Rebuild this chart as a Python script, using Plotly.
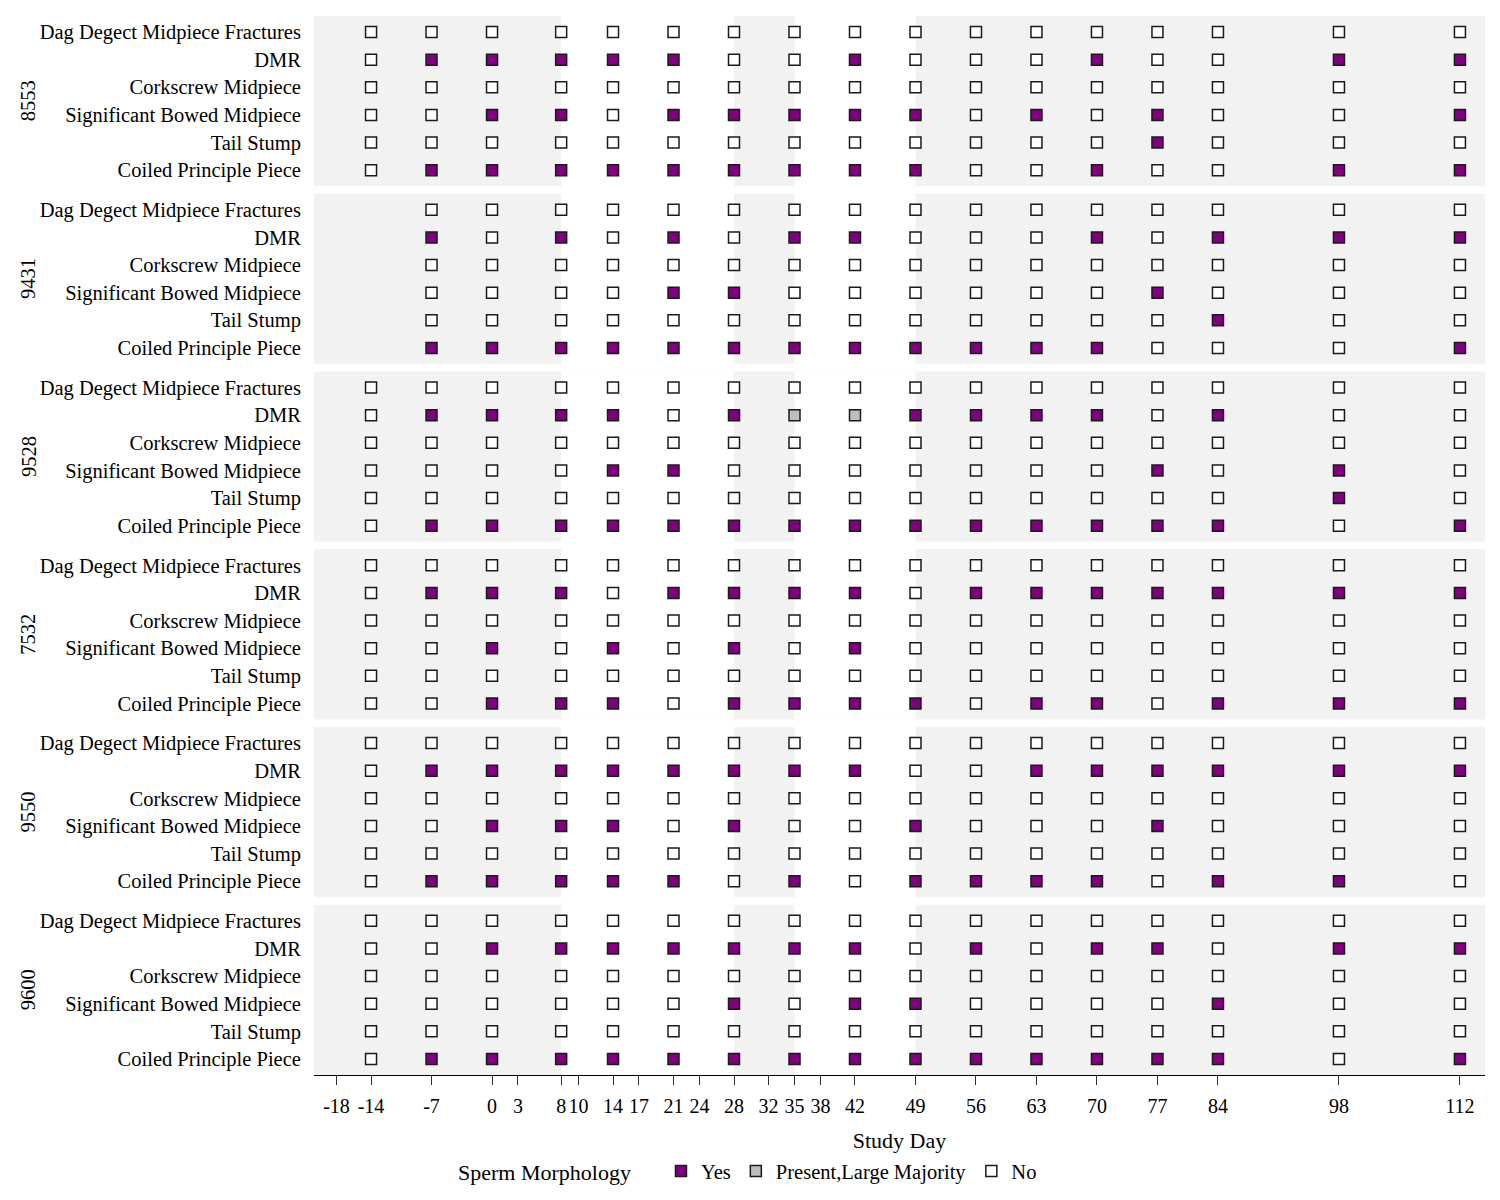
import plotly.graph_objects as go
from plotly.subplots import make_subplots

# study days sampled and the axis ticks shown on the bottom
days = [-14, -7, 0, 8, 14, 21, 28, 35, 42, 49, 56, 63, 70, 77, 84, 98, 112]
day_ticks = [-18, -14, -7, 0, 3, 8, 10, 14, 17, 21, 24, 28, 32, 35, 38, 42, 49, 56, 63, 70, 77, 84, 98, 112]

morphologies = ["Dag Degect Midpiece Fractures", "DMR", "Corkscrew Midpiece",
                "Significant Bowed Midpiece", "Tail Stump", "Coiled Principle Piece"]

animals = ["8553", "9431", "9528", "7532", "9550", "9600"]

# 1 = Yes, 2 = Present,Large Majority, 0 = No, None = not sampled
N = None
status_8553 = [
    [0, 0, 0, 0, 0, 0, 0, 0, 0, 0, 0, 0, 0, 0, 0, 0, 0],
    [0, 1, 1, 1, 1, 1, 0, 0, 1, 0, 0, 0, 1, 0, 0, 1, 1],
    [0, 0, 0, 0, 0, 0, 0, 0, 0, 0, 0, 0, 0, 0, 0, 0, 0],
    [0, 0, 1, 1, 0, 1, 1, 1, 1, 1, 0, 1, 0, 1, 0, 0, 1],
    [0, 0, 0, 0, 0, 0, 0, 0, 0, 0, 0, 0, 0, 1, 0, 0, 0],
    [0, 1, 1, 1, 1, 1, 1, 1, 1, 1, 0, 0, 1, 0, 0, 1, 1],
]
status_9431 = [
    [N, 0, 0, 0, 0, 0, 0, 0, 0, 0, 0, 0, 0, 0, 0, 0, 0],
    [N, 1, 0, 1, 0, 1, 0, 1, 1, 0, 0, 0, 1, 0, 1, 1, 1],
    [N, 0, 0, 0, 0, 0, 0, 0, 0, 0, 0, 0, 0, 0, 0, 0, 0],
    [N, 0, 0, 0, 0, 1, 1, 0, 0, 0, 0, 0, 0, 1, 0, 0, 0],
    [N, 0, 0, 0, 0, 0, 0, 0, 0, 0, 0, 0, 0, 0, 1, 0, 0],
    [N, 1, 1, 1, 1, 1, 1, 1, 1, 1, 1, 1, 1, 0, 0, 0, 1],
]
status_9528 = [
    [0, 0, 0, 0, 0, 0, 0, 0, 0, 0, 0, 0, 0, 0, 0, 0, 0],
    [0, 1, 1, 1, 1, 0, 1, 2, 2, 1, 1, 1, 1, 0, 1, 0, 0],
    [0, 0, 0, 0, 0, 0, 0, 0, 0, 0, 0, 0, 0, 0, 0, 0, 0],
    [0, 0, 0, 0, 1, 1, 0, 0, 0, 0, 0, 0, 0, 1, 0, 1, 0],
    [0, 0, 0, 0, 0, 0, 0, 0, 0, 0, 0, 0, 0, 0, 0, 1, 0],
    [0, 1, 1, 1, 1, 1, 1, 1, 1, 1, 1, 1, 1, 1, 1, 0, 1],
]
status_7532 = [
    [0, 0, 0, 0, 0, 0, 0, 0, 0, 0, 0, 0, 0, 0, 0, 0, 0],
    [0, 1, 1, 1, 0, 1, 1, 1, 1, 0, 1, 1, 1, 1, 1, 1, 1],
    [0, 0, 0, 0, 0, 0, 0, 0, 0, 0, 0, 0, 0, 0, 0, 0, 0],
    [0, 0, 1, 0, 1, 0, 1, 0, 1, 0, 0, 0, 0, 0, 0, 0, 0],
    [0, 0, 0, 0, 0, 0, 0, 0, 0, 0, 0, 0, 0, 0, 0, 0, 0],
    [0, 0, 1, 1, 1, 0, 1, 1, 1, 1, 0, 1, 1, 0, 1, 1, 1],
]
status_9550 = [
    [0, 0, 0, 0, 0, 0, 0, 0, 0, 0, 0, 0, 0, 0, 0, 0, 0],
    [0, 1, 1, 1, 1, 1, 1, 1, 1, 0, 0, 1, 1, 1, 1, 1, 1],
    [0, 0, 0, 0, 0, 0, 0, 0, 0, 0, 0, 0, 0, 0, 0, 0, 0],
    [0, 0, 1, 1, 1, 0, 1, 0, 0, 1, 0, 0, 0, 1, 0, 0, 0],
    [0, 0, 0, 0, 0, 0, 0, 0, 0, 0, 0, 0, 0, 0, 0, 0, 0],
    [0, 1, 1, 1, 1, 1, 0, 1, 0, 1, 1, 1, 1, 0, 1, 1, 0],
]
status_9600 = [
    [0, 0, 0, 0, 0, 0, 0, 0, 0, 0, 0, 0, 0, 0, 0, 0, 0],
    [0, 0, 1, 1, 1, 1, 1, 1, 1, 0, 1, 0, 1, 1, 0, 1, 1],
    [0, 0, 0, 0, 0, 0, 0, 0, 0, 0, 0, 0, 0, 0, 0, 0, 0],
    [0, 0, 0, 0, 0, 0, 1, 0, 1, 1, 0, 0, 0, 0, 1, 0, 0],
    [0, 0, 0, 0, 0, 0, 0, 0, 0, 0, 0, 0, 0, 0, 0, 0, 0],
    [0, 1, 1, 1, 1, 1, 1, 1, 1, 1, 1, 1, 1, 1, 1, 0, 1],
]

# unshaded (white) study periods
white_bands = [(8, 28), (35, 49)]

panels = [status_8553, status_9431, status_9528, status_7532, status_9550, status_9600]

levels = [(1, "Yes", "#800080"), (2, "Present,Large Majority", "#bebebe"), (0, "No", "white")]

FONT = "Liberation Serif"

fig = make_subplots(rows=len(animals), cols=1, shared_xaxes=True, vertical_spacing=0.0072)

shown = set()
for r, (animal, grid) in enumerate(zip(animals, panels), start=1):
    for code, name, color in levels:
        xs, ys = [], []
        for i, row in enumerate(grid):
            for d, v in zip(days, row):
                if v == code:
                    xs.append(d)
                    ys.append(i)
        if not xs:
            continue
        fig.add_trace(go.Scatter(
            x=xs, y=ys, mode="markers", name=name, legendgroup=name,
            legendrank={1: 1, 2: 2, 0: 3}[code],
            showlegend=name not in shown,
            marker=dict(symbol="square", size=11, color=color,
                        line=dict(color="#1a1a1a", width=1.5)),
        ), row=r, col=1)
        shown.add(name)

    yref = "y domain" if r == 1 else "y%d domain" % r
    for x0, x1 in white_bands:
        fig.add_shape(type="rect", xref="x", yref=yref, x0=x0, x1=x1, y0=0, y1=1,
                      fillcolor="white", line_width=0, layer="below")
    fig.add_annotation(text=animal, xref="paper", yref=yref, x=-0.244, y=0.5,
                       textangle=-90, showarrow=False, xanchor="center", yanchor="middle",
                       font=dict(family=FONT, size=20.5, color="black"))

fig.update_yaxes(range=[5.58, -0.58], tickvals=list(range(len(morphologies))),
                 ticktext=morphologies, showgrid=False, zeroline=False, showline=False,
                 ticks="outside", ticklen=8, tickcolor="rgba(0,0,0,0)",
                 tickfont=dict(family=FONT, size=20.5, color="black"))
fig.update_xaxes(range=[-20.6, 114.9], showgrid=False, zeroline=False, showline=False, ticks="")
fig.update_xaxes(row=len(animals), col=1, showline=True, linecolor="black", linewidth=1,
                 ticks="outside", ticklen=9, tickcolor="#333333", tickvals=day_ticks,
                 ticktext=[str(d) for d in day_ticks], ticklabelstandoff=4, tickangle=0,
                 showticklabels=True, tickfont=dict(family=FONT, size=20, color="black"),
                 title=dict(text="Study Day", standoff=16, font=dict(family=FONT, size=22, color="black")))

fig.update_layout(
    width=1500, height=1200,
    margin=dict(l=306, r=23, t=8, b=133),
    plot_bgcolor="#f2f2f2", paper_bgcolor="white",
    font=dict(family=FONT, color="black"),
    legend=dict(orientation="h", x=0.3715, xanchor="center", y=-0.0907, yanchor="middle",
                title=dict(text="Sperm Morphology    ", font=dict(family=FONT, size=22)),
                font=dict(family=FONT, size=20.5)),
)

fig.write_html("out.html")
